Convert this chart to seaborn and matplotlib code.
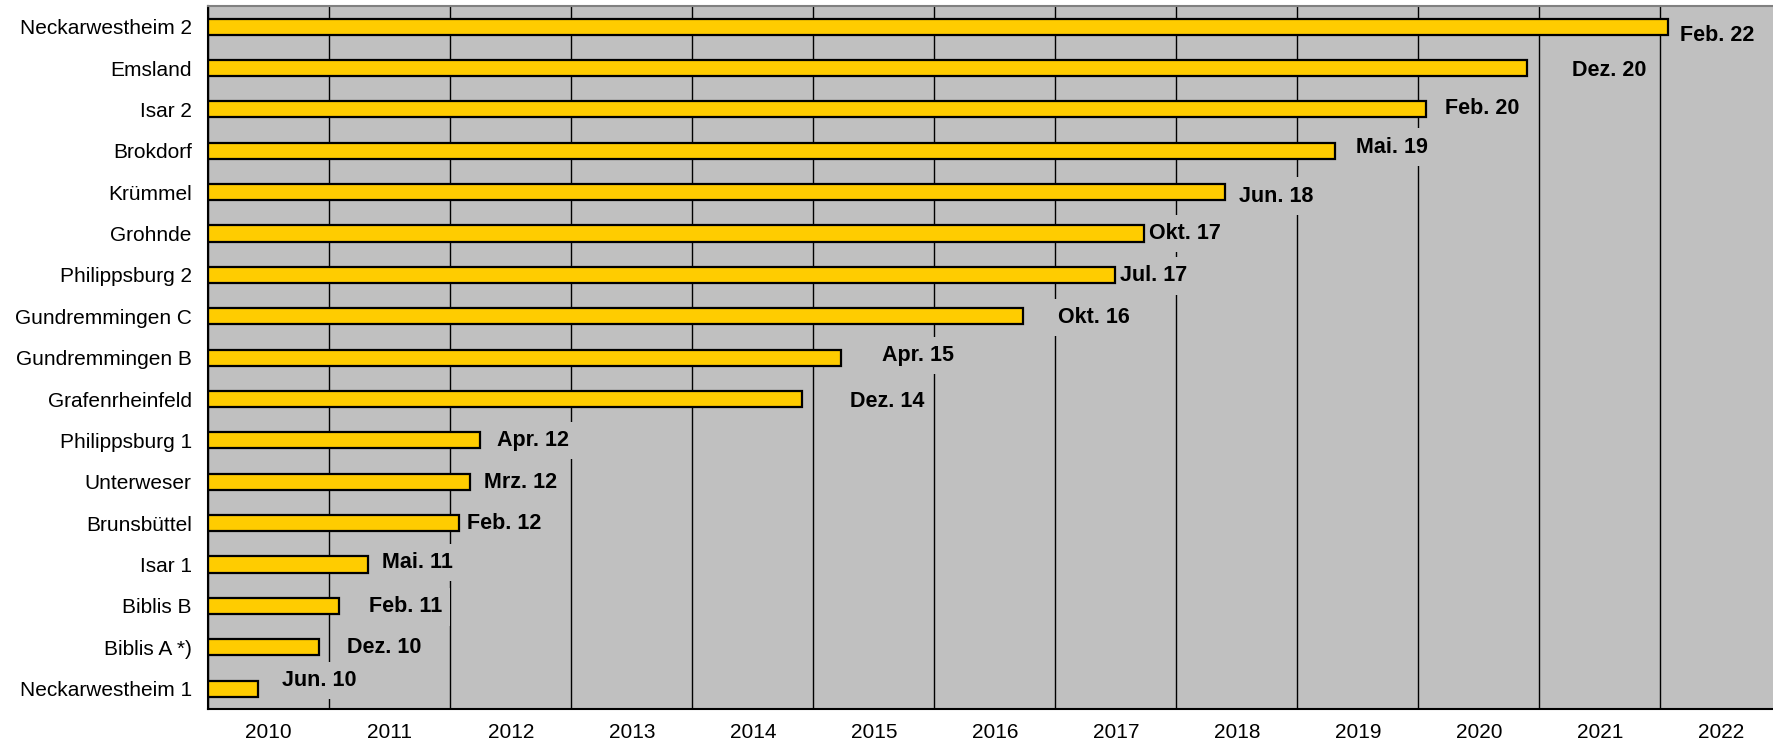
import matplotlib
matplotlib.use('Agg')
import matplotlib.pyplot as plt
import seaborn as sns
import pandas as pd
from matplotlib.ticker import FixedLocator, NullFormatter

# Kraftwerke von oben nach unten
kraftwerke = ['Neckarwestheim 2', 'Emsland', 'Isar 2', 'Brokdorf', 'Krümmel', 'Grohnde',
              'Philippsburg 2', 'Gundremmingen C', 'Gundremmingen B', 'Grafenrheinfeld',
              'Philippsburg 1', 'Unterweser', 'Brunsbüttel', 'Isar 1', 'Biblis B',
              'Biblis A *)', 'Neckarwestheim 1']

# Restlaufzeit in Jahren ab Anfang 2010
laufzeit = [12.06, 10.90, 10.06, 9.31, 8.40, 7.73, 7.49, 6.73, 5.23, 4.91,
            2.245, 2.16, 2.07, 1.32, 1.08, 0.915, 0.41]

abschaltung = ['Feb. 22', 'Dez. 20', 'Feb. 20', 'Mai. 19', 'Jun. 18', 'Okt. 17',
               'Jul. 17', 'Okt. 16', 'Apr. 15', 'Dez. 14', 'Apr. 12', 'Mrz. 12',
               'Feb. 12', 'Mai. 11', 'Feb. 11', 'Dez. 10', 'Jun. 10']

jahre = ['2010', '2011', '2012', '2013', '2014', '2015', '2016',
         '2017', '2018', '2019', '2020', '2021', '2022']

# label offsets in pixels (the labels were dragged by hand in the original)
label_dx = [12, 45, 19, 21, 14, 5, 5, 35, 41, 48, 17, 14, 8, 14, 30, 28, 24]
label_dy = [8.5, 2.7, -1, -3.7, 4, 0, 1, 1, -2, 2, 0, 1, 0, -2, 1, 0, -8]

df = pd.DataFrame({'kraftwerk': kraftwerke, 'laufzeit': laufzeit})

sns.set_style('white', {'axes.facecolor': '#C0C0C0'})
plt.rcParams['font.family'] = ['Liberation Sans', 'DejaVu Sans']
plt.rcParams['text.color'] = 'black'
plt.rcParams['xtick.labelcolor'] = 'black'
plt.rcParams['ytick.labelcolor'] = 'black'

fig = plt.figure(figsize=(17.73, 7.48), dpi=100)
# right edge of the plot runs past the image like in the original
ax = fig.add_axes([208.3 / 1773, 38.7 / 748, 13 * 121 / 1773, 703.3 / 748])

sns.barplot(data=df, x='laufzeit', y='kraftwerk', orient='h', color='#FFCC00',
            saturation=1, edgecolor='black', linewidth=1.6, width=0.39, ax=ax)
for p in ax.patches:
    p.set_zorder(2)

ax.set_xlim(0, 13)
ax.set_ylim(16.5, -0.5)
ax.set_xlabel('')
ax.set_ylabel('')

# year boundaries as grid, year names in the middle
ax.xaxis.set_major_locator(FixedLocator(range(14)))
ax.xaxis.set_major_formatter(NullFormatter())
ax.xaxis.set_minor_locator(FixedLocator([i + 0.5 for i in range(13)]))
ax.set_xticklabels(jahre, minor=True)
ax.tick_params(axis='x', which='major', length=3.6, width=1, color='black', direction='out')
ax.tick_params(axis='x', which='minor', length=0, pad=10, labelsize=15, labelcolor='black')

ax.yaxis.set_minor_locator(FixedLocator([i - 0.5 for i in range(18)]))
ax.tick_params(axis='y', which='major', length=0, pad=12, labelsize=15, labelcolor='black')
ax.tick_params(axis='y', which='minor', length=5.5, width=1, color='black', direction='out')

ax.set_axisbelow(True)
ax.grid(axis='x', which='major', color='black', linewidth=1.0)
ax.grid(axis='y', visible=False)

for side in ['left', 'bottom']:
    ax.spines[side].set_color('black')
    ax.spines[side].set_linewidth(1.5)
ax.spines['top'].set_color('#808080')
ax.spines['top'].set_linewidth(1.5)
ax.spines['right'].set_visible(False)

for i, (wert, txt) in enumerate(zip(laufzeit, abschaltung)):
    ax.annotate(txt, xy=(wert, i), xytext=(label_dx[i], -label_dy[i]),
                textcoords='offset pixels', ha='left', va='center', color='black',
                fontsize=15.5, fontweight='bold', zorder=1.5,
                bbox=dict(boxstyle='square,pad=0.38', fc='#C0C0C0', ec='none'))

fig.savefig('out.png', dpi=100)
